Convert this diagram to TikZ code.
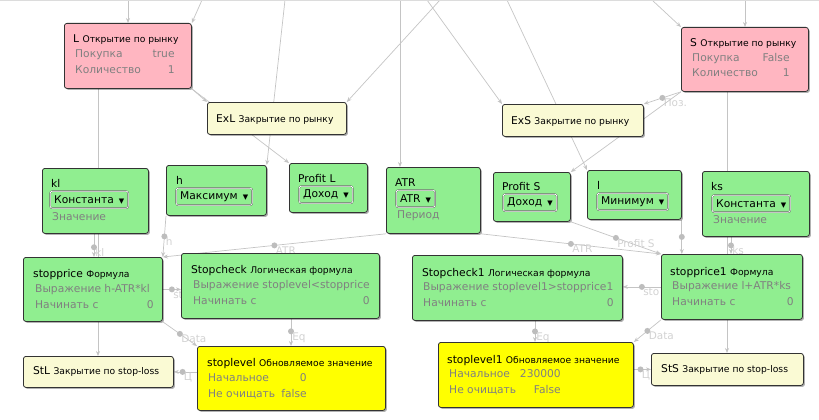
\documentclass[tikz,border=0pt]{standalone}
\usepackage{fontspec}
\setmainfont{DejaVu Sans}
\usetikzlibrary{arrows.meta,calc,shadows}

\definecolor{pinkc}{HTML}{FFB6C1}
\definecolor{greenc}{HTML}{90EE90}
\definecolor{creamc}{HTML}{FAFAD4}
\definecolor{yellowc}{HTML}{FFFF00}
\definecolor{boxc}{HTML}{333333}
\definecolor{propc}{HTML}{808080}
\definecolor{comboc}{HTML}{5A5A5A}
\definecolor{linec}{HTML}{C4C4C4}
\definecolor{dotc}{HTML}{BDBDBD}
\definecolor{labc}{HTML}{D2D2D2}

\pgfdeclarelayer{bg}
\pgfsetlayers{bg,main}

\newcommand{\kind}[1]{{\fontsize{9.2}{11}\selectfont #1}}
\newcommand{\tri}{\hspace{5pt}{\fontsize{7}{7}\selectfont ▼}}

\tikzstyle{box} = [draw=boxc, line width=0.8pt, rounded corners=2.5pt, inner sep=0pt, anchor=north west,
  drop shadow={shadow xshift=1.5pt, shadow yshift=-1.5pt, opacity=0.3, fill=black}]
\tikzstyle{ttl} = [anchor=base west, inner sep=0pt, font=\fontsize{10.7}{12}\selectfont]
\tikzstyle{prop} = [anchor=base west, inner sep=0pt, text=propc, font=\fontsize{10.7}{12}\selectfont]
\tikzstyle{val} = [prop, anchor=base east]
\tikzstyle{combo} = [anchor=north west, draw=comboc, line width=0.4pt, double=white, double distance=0.7pt,
  rounded corners=2pt, minimum height=17pt, inner sep=0pt, inner xsep=4pt, font=\fontsize{10.7}{12}\selectfont]
\tikzstyle{conn} = [draw=linec, line width=0.7pt, -{Stealth[length=5pt, width=4pt]}]
\tikzstyle{dot} = [circle, fill=dotc, inner sep=0pt, minimum size=6pt, midway]
\tikzstyle{lab} = [inner sep=0pt, text=labc, font=\fontsize{10.5}{12}\selectfont, anchor=north west, midway, xshift=1pt, yshift=-1pt]

\begin{document}
\begin{tikzpicture}[x=1pt, y=-1pt]
\useasboundingbox (0,0) rectangle (819,420);
\draw[linec!60] (0,0.5) -- (819,0.5);

% Позиции
\node[box, fill=pinkc, minimum width=127pt, minimum height=65pt] (L) at (64,23) {};
\node[ttl] (Lt) at ($(L.north west)+(9,20)$) {L \kind{Открытие по рынку}};
\node[prop] (Lp1) at ($(L.north west)+(11,35)$) {Покупка};
\node[val] (Lv1) at ($(L.north east)+(-17,35)$) {true};
\node[prop] (Lp2) at ($(L.north west)+(11,51)$) {Количество};
\node[val] (Lv2) at ($(L.north east)+(-17,51)$) {1};

\node[box, fill=pinkc, minimum width=127pt, minimum height=64pt] (S) at (681,27) {};
\node[ttl] (St) at ($(S.north west)+(9,20)$) {S \kind{Открытие по рынку}};
\node[prop] (Sp1) at ($(S.north west)+(11,35)$) {Покупка};
\node[val] (Sv1) at ($(S.north east)+(-19,35)$) {False};
\node[prop] (Sp2) at ($(S.north west)+(11,50)$) {Количество};
\node[val] (Sv2) at ($(S.north east)+(-19,50)$) {1};

\node[box, fill=creamc, minimum width=139pt, minimum height=32pt] (ExL) at (207,102) {};
\node[ttl, anchor=west] (ExLt) at ($(ExL.west)+(9,1)$) {ExL \kind{Закрытие по рынку}};
\node[box, fill=creamc, minimum width=141pt, minimum height=32pt] (ExS) at (502,104) {};
\node[ttl, anchor=west] (ExSt) at ($(ExS.west)+(9,1)$) {ExS \kind{Закрытие по рынку}};

% Переменные
\node[box, fill=greenc, minimum width=106pt, minimum height=65pt] (kl) at (42,168) {};
\node[ttl] (klt) at ($(kl.north west)+(9,19)$) {kl};
\node[combo] (klc) at ($(kl.north west)+(8,23)$) {Константа\tri};
\node[prop] (klp) at ($(kl.north west)+(10,52)$) {Значение};

\node[box, fill=greenc, minimum width=100pt, minimum height=50pt] (h) at (166,165) {};
\node[ttl] (ht) at ($(h.north west)+(10,19)$) {h};
\node[combo] (hc) at ($(h.north west)+(10,23)$) {Максимум\tri};

\node[box, fill=greenc, minimum width=78pt, minimum height=49pt] (ProfL) at (289,163) {};
\node[ttl] (ProfLt) at ($(ProfL.north west)+(9,19)$) {Profit L};
\node[combo] (ProfLc) at ($(ProfL.north west)+(10,23)$) {Доход\tri};

\node[box, fill=greenc, minimum width=94pt, minimum height=66pt] (ATR) at (386,167) {};
\node[ttl] (ATRt) at ($(ATR.north west)+(9,19)$) {ATR};
\node[combo] (ATRc) at ($(ATR.north west)+(10,23)$) {ATR\tri};
\node[prop] (ATRp) at ($(ATR.north west)+(11,51)$) {Период};

\node[box, fill=greenc, minimum width=77pt, minimum height=49pt] (ProfS) at (493,172) {};
\node[ttl] (ProfSt) at ($(ProfS.north west)+(9,18)$) {Profit S};
\node[combo] (ProfSc) at ($(ProfS.north west)+(10,22)$) {Доход\tri};

\node[box, fill=greenc, minimum width=94pt, minimum height=49pt] (l) at (587,170) {};
\node[ttl] (lt) at ($(l.north west)+(10,19)$) {l};
\node[combo] (lc) at ($(l.north west)+(10,23)$) {Минимум\tri};

\node[box, fill=greenc, minimum width=107pt, minimum height=65pt] (ks) at (702,171) {};
\node[ttl] (kst) at ($(ks.north west)+(9,19)$) {ks};
\node[combo] (ksc) at ($(ks.north west)+(10,24)$) {Константа\tri};
\node[prop] (ksp) at ($(ks.north west)+(11,52)$) {Значение};

% Формулы
\node[box, fill=greenc, minimum width=139pt, minimum height=64pt] (stopprice) at (23,257) {};
\node[ttl] (spt) at ($(stopprice.north west)+(10,20)$) {stopprice \kind{Формула}};
\node[prop] (spp1) at ($(stopprice.north west)+(12,35)$) {Выражение h-ATR*kl};
\node[prop] (spp2) at ($(stopprice.north west)+(12,51)$) {Начинать с};
\node[val] (spv2) at ($(stopprice.north east)+(-9,51)$) {0};

\node[box, fill=greenc, minimum width=198pt, minimum height=65pt] (Stopcheck) at (181,253) {};
\node[ttl] (sct) at ($(Stopcheck.north west)+(10,20)$) {Stopcheck \kind{Логическая формула}};
\node[prop] (scp1) at ($(Stopcheck.north west)+(12,35)$) {Выражение stoplevel<stopprice};
\node[prop] (scp2) at ($(Stopcheck.north west)+(12,51)$) {Начинать с};
\node[val] (scv2) at ($(Stopcheck.north east)+(-10,51)$) {0};

\node[box, fill=yellowc, minimum width=188pt, minimum height=64pt] (stoplevel) at (197,346) {};
\node[ttl] (slt) at ($(stoplevel.north west)+(10,20)$) {stoplevel \kind{Обновляемое значение}};
\node[prop] (slp1) at ($(stoplevel.north west)+(11,35)$) {Начальное};
\node[val] (slv1) at ($(stoplevel.north west)+(110,35)$) {0};
\node[prop] (slp2) at ($(stoplevel.north west)+(11,51)$) {Не очищать};
\node[val] (slv2) at ($(stoplevel.north west)+(110,51)$) {false};

\node[box, fill=creamc, minimum width=150pt, minimum height=31pt] (StL) at (23,356) {};
\node[ttl, anchor=west] (StLt) at ($(StL.west)+(10,0)$) {StL \kind{Закрытие по stop-loss}};

\node[box, fill=greenc, minimum width=210pt, minimum height=65pt] (Stopcheck1) at (412,255) {};
\node[ttl] (sc1t) at ($(Stopcheck1.north west)+(10,21)$) {Stopcheck1 \kind{Логическая формула}};
\node[prop] (sc1p1) at ($(Stopcheck1.north west)+(11,35)$) {Выражение stoplevel1>stopprice1};
\node[prop] (sc1p2) at ($(Stopcheck1.north west)+(11,51)$) {Начинать с};
\node[val] (sc1v2) at ($(Stopcheck1.north east)+(-9,51)$) {0};

\node[box, fill=greenc, minimum width=141pt, minimum height=65pt] (stopprice1) at (661,254) {};
\node[ttl] (sp1t) at ($(stopprice1.north west)+(9,21)$) {stopprice1 \kind{Формула}};
\node[prop] (sp1p1) at ($(stopprice1.north west)+(11,35)$) {Выражение l+ATR*ks};
\node[prop] (sp1p2) at ($(stopprice1.north west)+(11,51)$) {Начинать с};
\node[val] (sp1v2) at ($(stopprice1.north east)+(-9,51)$) {0};

\node[box, fill=yellowc, minimum width=195pt, minimum height=65pt] (stoplevel1) at (438,342) {};
\node[ttl] (sl1t) at ($(stoplevel1.north west)+(9,21)$) {stoplevel1 \kind{Обновляемое значение}};
\node[prop] (sl1p1) at ($(stoplevel1.north west)+(11,35)$) {Начальное};
\node[val] (sl1v1) at ($(stoplevel1.north west)+(123,35)$) {230000};
\node[prop] (sl1p2) at ($(stoplevel1.north west)+(11,51)$) {Не очищать};
\node[val] (sl1v2) at ($(stoplevel1.north west)+(123,51)$) {False};

\node[box, fill=creamc, minimum width=152pt, minimum height=32pt] (StS) at (651,353) {};
\node[ttl, anchor=west] (StSt) at ($(StS.west)+(10,0)$) {StS \kind{Закрытие по stop-loss}};

% Связи
\begin{pgfonlayer}{bg}
  % входы сверху
  \coordinate (in1) at (128,0);
  \coordinate (in2) at (202,0);
  \coordinate (in3) at (285,0);
  \coordinate (in4) at (400,0);
  \coordinate (in5) at (440,0);
  \coordinate (in6) at (427,0);
  \coordinate (in7) at (507,0);
  \coordinate (in8) at (652,0);
  \coordinate (in9) at (745,0);
  \path[conn] (in1) -- (in1 |- L.north);
  \path[conn] (in2) -- (L.north east);
  \path[conn] (in3) -- (h.north east);
  \path[conn] (in4) -- (in4 |- ATR.north);
  \path[conn] (in5) -- (ExL.north east);
  \path[conn] (in6) -- (ExS.north west);
  \path[conn] (in7) -- (l.north west);
  \path[conn] (in8) -- (S.north west);
  \path[conn] (in9) -- (in9 |- S.north);

  % позиции
  \coordinate (Lb) at ($(L.south west)+(34,0)$);
  \coordinate (Sb) at ($(S.south west)+(46,0)$);
  \path[conn] (L.south east) -- (ExL.north west);
  \path[conn] (L.south east) -- (ProfL.north west);
  \path[conn] (Lb) -- (Lb |- StL.north);
  \path[conn] (S.south west) -- node[dot] {} node[lab] {Поз.} (ExS.north east);
  \path[conn] (S.south west) -- (ProfS.north east);
  \path[conn] (Sb) -- (Sb |- StS.north);

  % входы формул
  \coordinate (klb) at ($(kl.south west)+(52,0)$);
  \coordinate (lb) at (l.south east);
  \coordinate (ksb) at ($(ks.south west)+(29,0)$);
  \path[conn] (klb) -- node[dot, pos=0.58] {} node[lab, pos=0.58] {kl} (klb |- stopprice.north);
  \path[conn] (h.south west) -- node[dot] {} node[lab] {h} (stopprice.north east);
  \path[conn] (ATR.south west) -- node[dot] {} node[lab] {ATR} (stopprice.north east);
  \path[conn] (ATR.south east) -- node[dot] {} node[lab] {ATR} (stopprice1.north west);
  \path[conn] (ProfS.south east) -- node[dot] {} node[lab] {Profit S} (stopprice1.north west);
  \path[conn] (lb) -- node[dot] {} (lb |- stopprice1.north);
  \path[conn] (ksb) -- node[dot] {} node[lab] {ks} (ksb |- stopprice1.north);

  % левая ветка
  \coordinate (chb) at ($(Stopcheck.south west)+(110,0)$);
  \path[conn] (stopprice.east) -- node[dot] {} node[lab] {st} (stopprice.east -| Stopcheck.west);
  \path[conn] (stopprice.south east) -- node[dot] {} node[lab] {Data} (stoplevel.north west);
  \path[conn] (chb) -- node[dot, pos=0.46] {} node[lab, pos=0.46] {Eq} (chb |- stoplevel.north);
  \path[conn] (stoplevel.west |- StL.east) -- node[dot, pos=0.62] {} node[lab, pos=0.62] {Ц} (StL.east);

  % правая ветка
  \coordinate (ch1b) at ($(Stopcheck1.south west)+(123,0)$);
  \path[conn] (stopprice1.west) -- node[dot] {} node[lab] {sto} (stopprice1.west -| Stopcheck1.east);
  \path[conn] (stopprice1.south west) -- node[dot] {} node[lab] {Data} (stoplevel1.north east);
  \path[conn] (ch1b) -- node[dot] {} node[lab] {Eq} (ch1b |- stoplevel1.north);
  \path[conn] (stoplevel1.east |- StS.west) -- node[dot, pos=0.39] {} node[lab, pos=0.39] {Ц} (StS.west);
\end{pgfonlayer}
\end{tikzpicture}
\end{document}
